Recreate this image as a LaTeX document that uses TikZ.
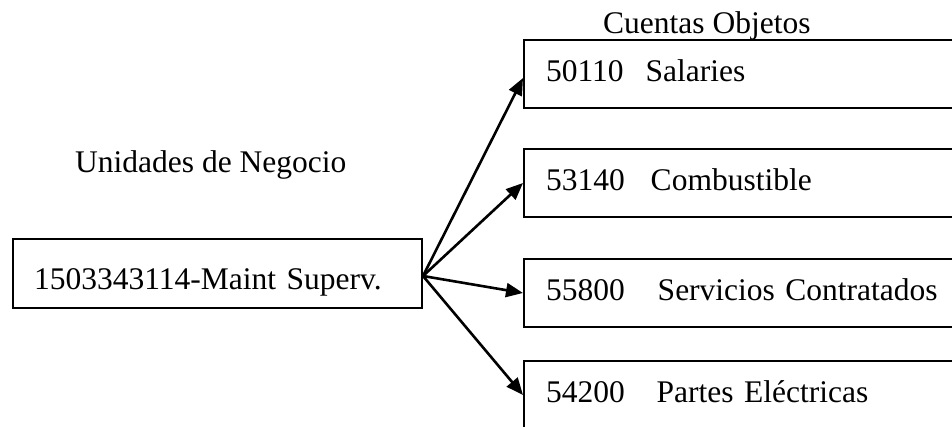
\documentclass[tikz,border=0pt]{standalone}
\usepackage{fontspec}
\setmainfont{Liberation Serif}
\usetikzlibrary{arrows.meta}
\tikzset{
  bigtext/.style={font=\fontsize{31.5}{36}\selectfont},
  leftbox/.style={draw, line width=2pt, rectangle, bigtext, anchor=north west,
    text width=367pt, inner xsep=21pt, inner ysep=0pt, align=left,
    minimum height=69pt, text height=31pt, text depth=0pt},
  acctbox/.style={draw, line width=2pt, rectangle, bigtext, anchor=north west,
    text width=416pt, inner xsep=22pt, inner ysep=0pt, align=left,
    minimum height=68pt, text height=31pt, text depth=17pt},
  caption/.style={bigtext, anchor=base west, inner sep=0pt},
  arr/.style={line width=2.6pt, -{Triangle[length=17pt,width=14pt]}}
}
\begin{document}
\begin{tikzpicture}[x=1pt,y=-1pt]
\useasboundingbox (0,0) rectangle (952,426);
\clip (0,0) rectangle (952,426);
\fill[white] (0,0) rectangle (952,426);

\node[caption] (cap1) at (603,33) {Cuentas Objetos};
\node[caption] (cap2) at (75,172) {Unidades de Negocio};

\node[leftbox] (L) at (12,238) {1503343114-Maint Superv.};

\node[acctbox] (R1) at (523,39) {50110\hspace{22pt}Salaries};
\node[acctbox] (R2) at (523,148) {53140\hspace{26pt}Combustible};
\node[acctbox] (R3) at (523,258) {55800\hspace{33pt}Servicios Contratados};
\node[acctbox] (R4) at (523,360) {54200\hspace{32pt}Partes Eléctricas};

\coordinate (o) at ([yshift=-2.5pt]L.east);
\coordinate (t1) at ([yshift=-4pt]R1.west);
\draw[arr] (o) -- (t1);
\draw[arr] (o) -- (R2.west);
\draw[arr] (o) -- (R3.west);
\draw[arr] (o) -- (R4.west);
\end{tikzpicture}
\end{document}
